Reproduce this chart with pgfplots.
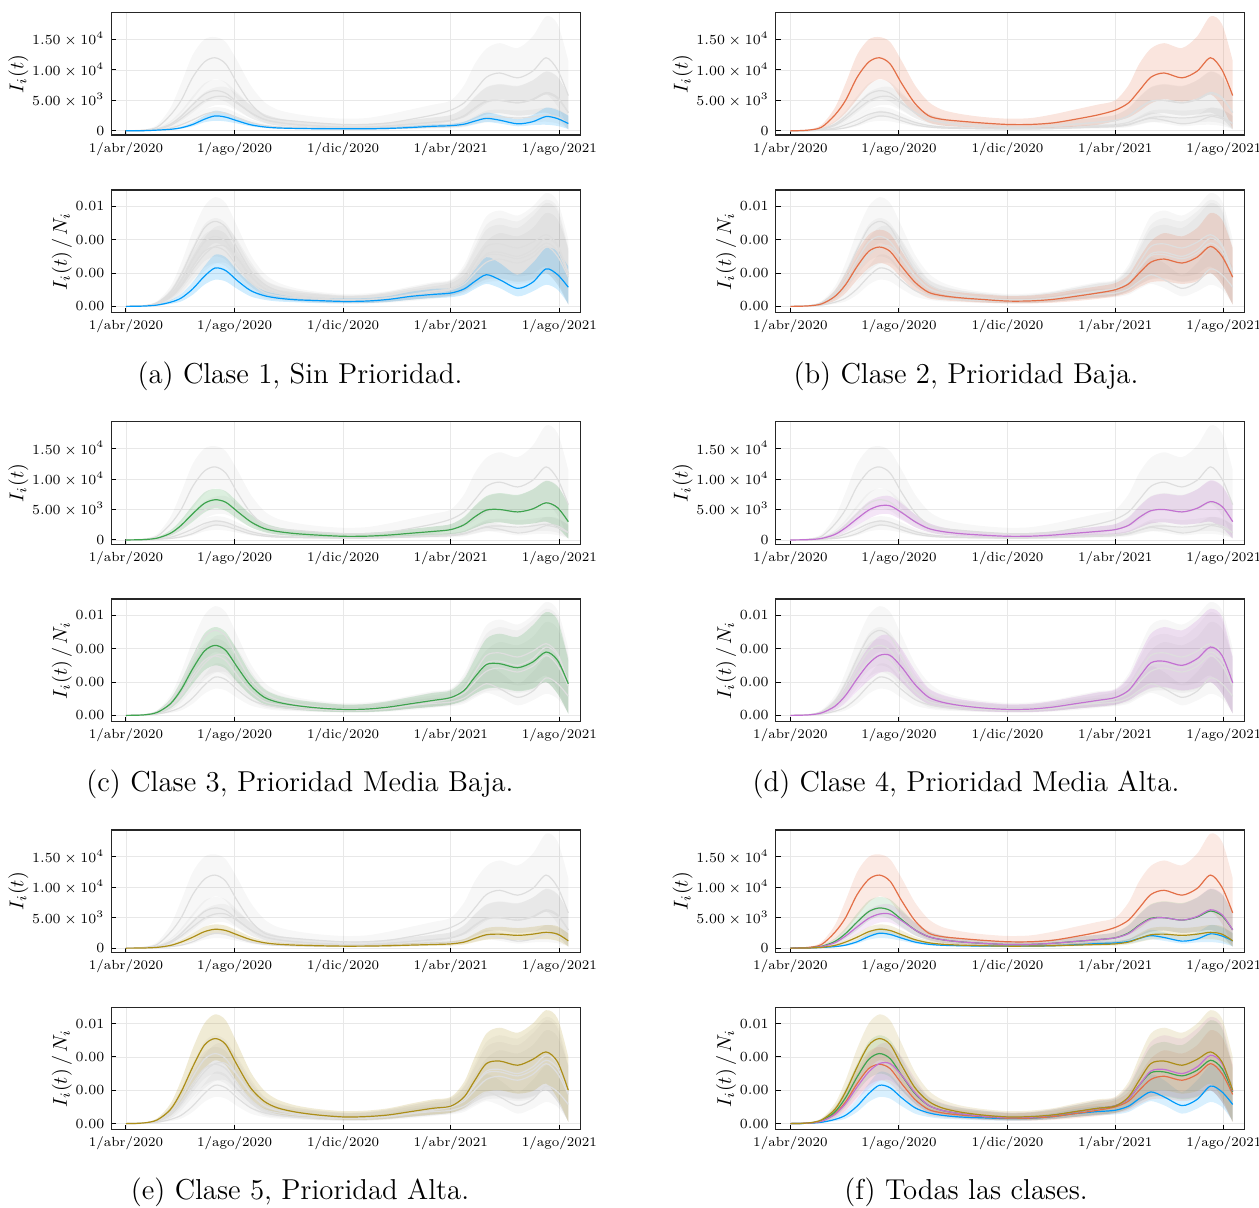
\documentclass[border=0pt]{standalone}
\usepackage{pgfplots}
\pgfplotsset{compat=1.18}
\usepackage{pgfplotstable}
\usepgfplotslibrary{fillbetween}

\definecolor{c1}{RGB}{0,154,250}
\definecolor{c2}{RGB}{227,111,71}
\definecolor{c3}{RGB}{62,164,78}
\definecolor{c4}{RGB}{195,113,210}
\definecolor{c5}{RGB}{172,142,24}

% I_i(t): day (0 = 1/abr/2020), mean, lower, upper for classes 1..5
\pgfplotstableread{
d   m1   l1   h1   m2    l2   h2    m3   l3   h3   m4   l4   h4   m5   l5   h5
0   0    0    0    0     0    0     0    0    0    0    0    0    0    0    0
20  30   20   40   120   60   200   60   40   90   50   30   80   30   20   45
35  120  80   170  600   300  1000  300  180  450  250  150  380  130  90   190
50  250  180  350  2600  1400 3800  1100 700  1600 900  550  1300 450  300  650
62  500  350  700  5000  2900 7800  2400 1600 3300 2000 1300 2700 1000 700  1350
75  1050 750  1400 8800  5200 12500 4300 3000 5700 3500 2400 4600 1800 1300 2400
88  1900 1400 2500 11300 7500 15000 6000 4500 7800 4900 3500 6300 2700 2000 3500
100 2450 1650 3300 12000 8500 15400 6600 5200 8400 5600 4200 7100 3100 2300 3900
112 2250 1550 3000 11000 7800 14600 6200 4800 8000 5600 4200 7200 2900 2200 3700
125 1650 1200 2200 7800  5200 11500 4700 3500 6300 4500 3300 6000 2200 1600 2900
140 1000 750  1400 4500  2800 7500  3000 2100 4200 3000 2100 4200 1400 1000 1900
155 650  480  950  2500  1400 4800  1900 1300 2800 1900 1300 2800 900  600  1250
170 480  350  700  1900  900  3500  1400 900  2100 1400 900  2100 650  420  950
190 400  280  600  1600  700  2800  1050 650  1600 1050 650  1600 500  320  750
215 350  240  520  1300  550  2300  800  450  1300 800  450  1300 400  250  620
244 330  220  500  1050  400  2000  600  300  1100 600  300  1100 330  200  550
270 340  220  520  1050  400  2100  620  300  1150 620  300  1150 340  200  560
295 400  270  600  1300  500  2700  800  400  1400 800  400  1400 400  250  650
320 550  380  800  1900  700  3500  1100 550  1800 1100 550  1800 500  320  800
345 750  520  1050 2600  1000 4300  1400 700  2200 1400 700  2200 600  380  950
365 850  600  1150 3400  1600 5000  1700 900  2600 1700 900  2600 700  420  1100
380 1100 750  1500 4600  2200 7500  2500 1300 3800 2400 1300 3700 1000 600  1500
392 1600 1100 2200 6600  3200 11000 3800 2000 5600 3700 2000 5500 1600 1000 2400
405 2050 1450 3000 8800  4500 13500 4900 2700 7200 4800 2700 7100 2200 1400 3300
420 1750 1200 2600 9500  5200 14400 5000 2900 7700 5000 2900 7600 2300 1500 3500
440 1150 750  1900 8700  4800 13600 4600 2500 7400 4600 2500 7300 2100 1300 3300
457 1500 950  2600 9800  5300 15500 5100 2700 8300 5200 2700 8300 2300 1400 3500
472 2350 1000 3800 12000 6000 18800 6100 3000 9700 6300 3000 9800 2600 1500 3800
485 2000 800  3400 10000 4000 17500 5300 2000 8800 5500 2000 8900 2300 1200 3600
497 1200 300  2500 5800  300  11500 3000 200  5900 3000 200  5900 1200 300  2400
}\tabI

% I_i(t)/N_i in units of 1e-3
\pgfplotstableread{
d   m1   l1   h1   m2   l2   h2   m3   l3   h3   m4   l4   h4   m5   l5   h5
0   0    0    0    0    0    0    0    0    0    0    0    0    0    0    0
20  0.02 0.01 0.03 0.03 0.02 0.05 0.03 0.02 0.05 0.03 0.02 0.05 0.04 0.02 0.06
35  0.08 0.05 0.12 0.15 0.08 0.25 0.18 0.10 0.28 0.15 0.09 0.24 0.22 0.12 0.32
50  0.25 0.15 0.38 0.60 0.35 0.95 0.70 0.42 1.00 0.55 0.32 0.80 0.85 0.50 1.20
62  0.50 0.30 0.75 1.30 0.80 2.00 1.55 1.00 2.10 1.20 0.75 1.70 1.90 1.20 2.60
75  1.05 0.70 1.45 2.40 1.60 3.30 2.80 1.90 3.60 2.20 1.45 3.00 3.40 2.30 4.50
88  1.80 1.30 2.40 3.30 2.30 4.30 3.85 2.70 4.90 3.10 2.10 4.10 4.70 3.30 6.00
100 2.30 1.60 3.10 3.56 2.60 4.60 4.20 3.00 5.30 3.60 2.55 4.75 5.10 3.80 6.55
112 2.15 1.50 2.95 3.30 2.40 4.35 3.90 2.80 5.00 3.60 2.60 4.80 4.75 3.50 6.20
125 1.55 1.05 2.15 2.40 1.70 3.30 2.90 2.00 3.90 2.90 2.00 4.00 3.50 2.50 4.80
140 0.95 0.60 1.40 1.45 0.95 2.10 1.80 1.20 2.50 1.85 1.20 2.70 2.15 1.45 3.10
155 0.65 0.40 0.95 0.85 0.50 1.30 1.10 0.68 1.60 1.10 0.68 1.65 1.35 0.85 2.00
170 0.50 0.30 0.75 0.65 0.38 1.00 0.80 0.48 1.20 0.80 0.48 1.25 0.95 0.58 1.45
190 0.40 0.25 0.60 0.52 0.30 0.85 0.60 0.35 0.95 0.60 0.35 0.98 0.70 0.42 1.10
215 0.35 0.20 0.52 0.42 0.23 0.72 0.45 0.25 0.78 0.45 0.25 0.80 0.52 0.30 0.88
244 0.30 0.18 0.48 0.32 0.18 0.62 0.36 0.20 0.65 0.36 0.20 0.67 0.40 0.23 0.75
270 0.32 0.20 0.50 0.33 0.18 0.65 0.38 0.20 0.68 0.38 0.20 0.70 0.42 0.23 0.78
295 0.42 0.27 0.62 0.42 0.22 0.78 0.50 0.27 0.85 0.50 0.27 0.87 0.52 0.30 0.92
320 0.60 0.40 0.88 0.60 0.32 1.00 0.70 0.40 1.10 0.70 0.40 1.12 0.72 0.42 1.20
345 0.72 0.50 1.05 0.80 0.45 1.20 0.90 0.52 1.35 0.90 0.52 1.38 0.92 0.55 1.45
365 0.80 0.55 1.10 1.00 0.60 1.40 1.07 0.65 1.50 1.07 0.65 1.55 1.05 0.65 1.60
380 1.05 0.70 1.45 1.35 0.80 1.90 1.50 0.90 2.20 1.50 0.90 2.30 1.60 0.95 2.50
392 1.50 1.05 2.20 2.00 1.15 2.90 2.30 1.30 3.40 2.30 1.30 3.60 2.60 1.45 4.00
405 1.90 1.35 2.95 2.65 1.45 3.90 3.05 1.60 4.60 3.15 1.65 4.90 3.60 1.90 5.40
420 1.60 1.10 2.60 2.84 1.50 4.40 3.10 1.65 4.90 3.25 1.70 5.30 3.75 2.00 5.75
440 1.08 0.60 1.90 2.60 1.35 4.20 2.86 1.45 4.70 3.00 1.50 5.10 3.50 1.80 5.45
457 1.45 0.90 2.60 2.95 1.50 4.70 3.20 1.60 5.40 3.40 1.65 5.70 3.85 1.95 6.00
472 2.25 1.30 3.50 3.60 2.00 5.60 3.80 2.00 6.20 4.10 2.00 6.40 4.30 2.40 6.80
485 1.90 1.00 3.30 3.00 1.30 5.20 3.30 1.30 5.70 3.60 1.30 5.90 3.70 1.50 6.30
497 1.15 0.15 2.40 1.75 0.10 3.50 1.90 0.10 3.30 1.95 0.10 3.50 2.00 0.10 4.00
}\tabN

\newcommand{\band}[4]{%
  \addplot[name path=U#2, draw=none, smooth, forget plot] table[x=d,y=h#2]{#1};
  \addplot[name path=L#2, draw=none, smooth, forget plot] table[x=d,y=l#2]{#1};
  \addplot[fill=#3, fill opacity=#4, draw=none, forget plot] fill between[of=U#2 and L#2];
}
\newcommand{\mean}[3]{%
  \addplot[#3, line width=0.6pt, smooth, forget plot] table[x=d,y=m#2]{#1};
}
\newcommand{\gband}[3]{\ifnum#2=#3\relax\else\band{#1}{#3}{black}{0.03}\fi}
\newcommand{\gline}[3]{\ifnum#2=#3\relax\else\mean{#1}{#3}{black!13}\fi}
\newcommand{\drawall}[2]{%
  \ifnum#2=0\relax
    \band{#1}{1}{c1}{0.15}\band{#1}{2}{c2}{0.15}\band{#1}{3}{c3}{0.15}%
    \band{#1}{4}{c4}{0.15}\band{#1}{5}{c5}{0.15}%
    \mean{#1}{1}{c1}\mean{#1}{2}{c2}\mean{#1}{3}{c3}\mean{#1}{4}{c4}\mean{#1}{5}{c5}%
  \else
    \gband{#1}{#2}{1}\gband{#1}{#2}{2}\gband{#1}{#2}{3}\gband{#1}{#2}{4}\gband{#1}{#2}{5}%
    \gline{#1}{#2}{1}\gline{#1}{#2}{2}\gline{#1}{#2}{3}\gline{#1}{#2}{4}\gline{#1}{#2}{5}%
    \band{#1}{#2}{c#2}{0.18}%
    \mean{#1}{#2}{c#2}%
  \fi
}

\pgfplotsset{
  base/.style={
    scale only axis, width=234.5pt, height=61.2pt,
    anchor=north west,
    xmin=-16.5, xmax=510.5,
    xtick={0,122,244,365,487},
    xticklabels={1/abr/2020,1/ago/2020,1/dic/2020,1/abr/2021,1/ago/2021},
    scaled y ticks=false,
    grid=major, grid style={black!9, line width=0.4pt},
    axis line style={black!85, line width=0.65pt},
    tick align=inside, tick pos=left, major tick length=2.4pt,
    tick style={black, line width=0.5pt},
    ticklabel style={font=\fontsize{6.6}{8}\selectfont},
    label style={font=\fontsize{9.6}{11}\selectfont},
    ylabel shift=-5pt,
  },
  topax/.style={base, ymin=-700, ymax=19400,
    ytick={0,5000,10000,15000},
    yticklabels={$0$,$5.00\times10^{3}$,$1.00\times10^{4}$,$1.50\times10^{4}$},
    ylabel={$I_i(t)$}},
  botax/.style={base, ymin=-0.36, ymax=6.98,
    ytick={0,2,4,6},
    yticklabels={$0.00$,$0.00$,$0.00$,$0.01$},
    ylabel={$I_i(t)\,/\,N_i$}},
}

\begin{document}
\begin{tikzpicture}
% (a)
\begin{axis}[topax, at={(55.65pt,-6.35pt)}] \drawall{\tabI}{1} \end{axis}
\begin{axis}[botax, at={(55.65pt,-95pt)}] \drawall{\tabN}{1} \end{axis}
% (b)
\begin{axis}[topax, at={(387.85pt,-6.35pt)}] \drawall{\tabI}{2} \end{axis}
\begin{axis}[botax, at={(387.85pt,-95pt)}] \drawall{\tabN}{2} \end{axis}
% (c)
\begin{axis}[topax, at={(55.65pt,-210.9pt)}] \drawall{\tabI}{3} \end{axis}
\begin{axis}[botax, at={(55.65pt,-299.5pt)}] \drawall{\tabN}{3} \end{axis}
% (d)
\begin{axis}[topax, at={(387.85pt,-210.9pt)}] \drawall{\tabI}{4} \end{axis}
\begin{axis}[botax, at={(387.85pt,-299.5pt)}] \drawall{\tabN}{4} \end{axis}
% (e)
\begin{axis}[topax, at={(55.65pt,-415pt)}] \drawall{\tabI}{5} \end{axis}
\begin{axis}[botax, at={(55.65pt,-503.6pt)}] \drawall{\tabN}{5} \end{axis}
% (f)
\begin{axis}[topax, at={(387.85pt,-415pt)}] \drawall{\tabI}{0} \end{axis}
\begin{axis}[botax, at={(387.85pt,-503.6pt)}] \drawall{\tabN}{0} \end{axis}

\begin{scope}[every node/.style={font=\fontsize{14.4}{17}\selectfont, inner sep=0pt}]
\node at (150pt,-188pt) {(a) Clase 1, Sin Prioridad.};
\node at (483pt,-188pt) {(b) Clase 2, Prioridad Baja.};
\node at (150pt,-392pt) {(c) Clase 3, Prioridad Media Baja.};
\node at (483pt,-392pt) {(d) Clase 4, Prioridad Media Alta.};
\node at (150pt,-596pt) {(e) Clase 5, Prioridad Alta.};
\node at (483pt,-596pt) {(f) Todas las clases.};
\end{scope}
\pgfresetboundingbox
\path (0,0) rectangle (629.5pt,-603.5pt);
\end{tikzpicture}
\end{document}
